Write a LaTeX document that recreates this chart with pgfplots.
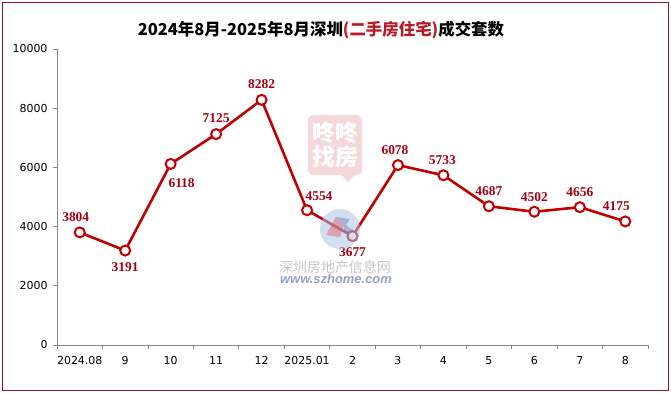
\documentclass[border=0pt]{standalone}
\usepackage{pgfplots}
\pgfplotsset{compat=1.18}
\usepackage{pgfplotstable}
\usepackage{fontspec}
\setmainfont{Liberation Serif}
\newfontfamily\cjk{Noto Sans CJK SC}
\newfontfamily\tickfont{DejaVu Sans}
\newfontfamily\wmfont{Liberation Sans}
\definecolor{linered}{RGB}{192,0,0}
\definecolor{labred}{RGB}{165,0,20}
\definecolor{titlered}{RGB}{185,25,35}
\definecolor{framered}{RGB}{140,20,40}
\definecolor{axisgray}{RGB}{134,134,134}
\definecolor{wmpink}{RGB}{235,170,175}
\definecolor{wmblue}{RGB}{170,200,230}
\definecolor{wmgray}{RGB}{200,200,200}
\definecolor{wmurl}{RGB}{150,160,205}
\definecolor{wmred}{RGB}{225,90,100}
\definecolor{wmdblue}{RGB}{110,120,200}
\pgfplotstableread{
x y dx dy
0 3804 -4 15
1 3191 0 -17
2 6118 11 -19
3 7125 0 16
4 8282 0 16
5 4554 12 14
6 3677 0 -16
7 6078 -3 15
8 5733 -1 15
9 4687 0 15
10 4502 0 15
11 4656 0 15
12 4175 -9 15
}\datatable
\begin{document}
\begin{tikzpicture}[x=1bp,y=1bp]
\useasboundingbox (0,0) rectangle (671,393);
\fill[white] (0,0) rectangle (671,393);
\draw[framered, line width=1bp] (2.5,2.5) rectangle (668.5,390.5);
\node[font=\cjk\bfseries\fontsize{16.5}{18}\selectfont] at (321,363) {2024年8月-2025年8月深圳\textcolor{titlered}{(二手房住宅)}成交套数};
\begin{axis}[
  at={(57bp,48bp)}, anchor=south west,
  scale only axis, width=591bp, height=296bp,
  xmin=-0.5, xmax=12.5, ymin=0, ymax=10000,
  axis lines*=left,
  axis line style={axisgray, line width=0.8bp},
  xtick={-0.5,0.5,...,12.5}, xticklabels={},
  extra x ticks={0,1,...,12},
  extra x tick labels={2024.08,9,10,11,12,2025.01,2,3,4,5,6,7,8},
  extra x tick style={major tick length=0pt, xticklabel style={yshift=-8bp}},
  ytick={0,2000,...,10000},
  scaled y ticks=false,
  tick align=outside,
  major tick length=4bp,
  tick style={axisgray, line width=0.8bp},
  ticklabel style={font=\tickfont\fontsize{11}{13}\selectfont, text=black},
  yticklabel style={xshift=-2bp},
  /pgf/number format/1000 sep={},
  /pgf/number format/assume math mode=true,
  clip=false,
]
\addplot[linered, line width=2.6bp, mark=*, mark size=5bp,
  mark options={fill=white, draw=linered, line width=2bp},
  visualization depends on={\thisrow{dx} \as \ldx},
  visualization depends on={\thisrow{dy} \as \ldy},
  point meta=y,
  nodes near coords,
  every node near coord/.append style={anchor=center, xshift=\ldx pt, yshift=\ldy pt,
    font=\bfseries\fontsize{13.5}{15}\selectfont, text=labred, /pgf/number format/1000 sep={}},
] table[x=x, y=y] {\datatable};
\end{axis}
% watermark
\fill[wmpink, opacity=0.45, rounded corners=5bp] (308,218) rectangle (362,278);
\fill[wmpink, opacity=0.45] (341,218) -- (348,211) -- (355,218) -- cycle;
\node[font=\cjk\bfseries\fontsize{23}{25}\selectfont, text=white, align=center] at (335,248) {咚咚\\[-1bp]找房};
\fill[wmblue, opacity=0.55] (340,164) circle (20);
\fill[wmred, opacity=0.45] (326,158) -- (336,176) -- (344,168) -- (340,156) -- cycle;
\fill[wmdblue, opacity=0.45] (336,176) -- (350,174) -- (346,168) -- (354,162) -- (344,160) -- (344,168) -- cycle;
\node[font=\cjk\fontsize{14}{16}\selectfont, text=wmgray] at (335,126) {深圳房地产信息网};
\node[font=\wmfont\bfseries\itshape\fontsize{13}{15}\selectfont, text=wmurl] at (336,114) {www.szhome.com};
\end{tikzpicture}
\end{document}
